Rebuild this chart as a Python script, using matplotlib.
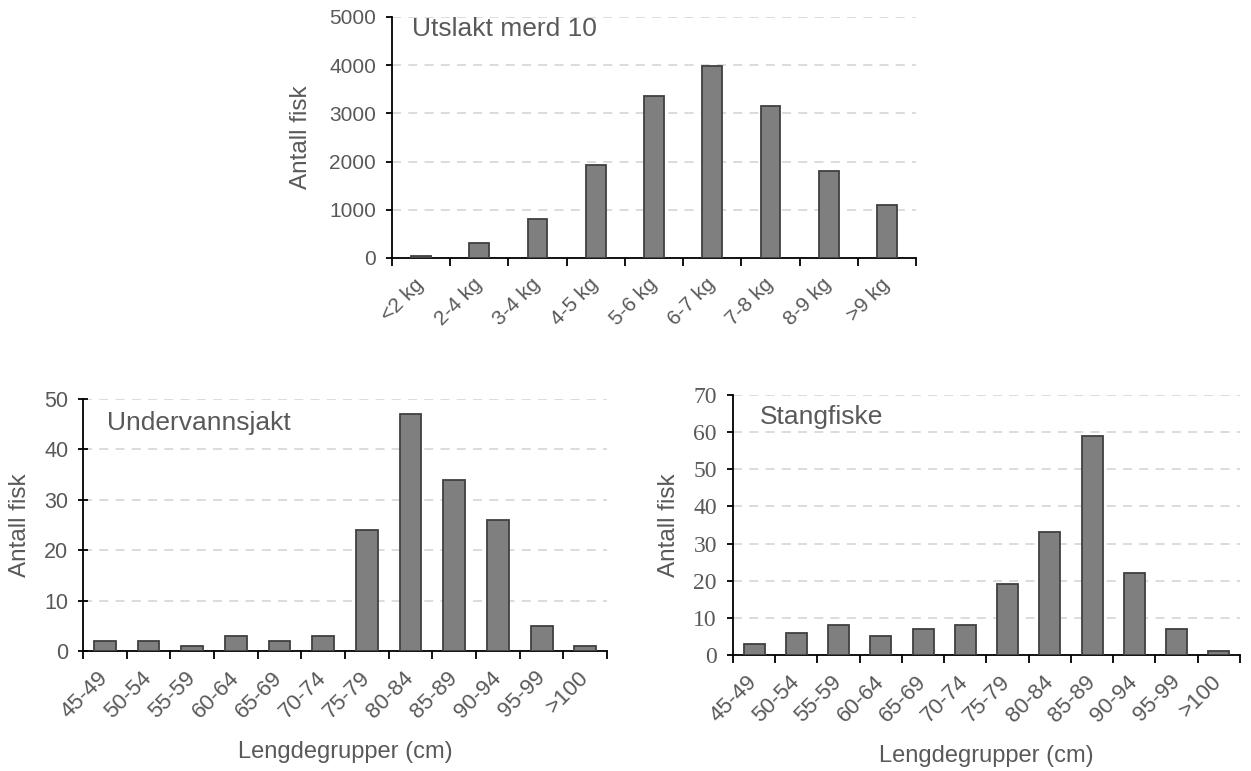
import numpy as np
import matplotlib
matplotlib.use("Agg")
import matplotlib.pyplot as plt

plt.rcParams['font.family'] = ['Liberation Sans', 'DejaVu Sans']

kg_labels = ["<2 kg", "2-4 kg", "3-4 kg", "4-5 kg", "5-6 kg", "6-7 kg", "7-8 kg", "8-9 kg", ">9 kg"]
kg_counts = [50, 310, 800, 1930, 3350, 3980, 3160, 1800, 1090]

len_labels = ["45-49", "50-54", "55-59", "60-64", "65-69", "70-74", "75-79",
              "80-84", "85-89", "90-94", "95-99", ">100"]
under_counts = [2, 2, 1, 3, 2, 3, 24, 47, 34, 26, 5, 1]
stang_counts = [3, 6, 8, 5, 7, 8, 19, 33, 59, 22, 7, 1]

txt = "#595959"
barc = "#7f7f7f"
edgec = "#404040"

fig = plt.figure(figsize=(12.51, 7.71), dpi=100)

def panel(rect, labels, vals, ymax, ystep, title, width, title_xy, ylab_x,
          xfs=16, yfs=15.5, ytdir="out", yfont=None, xlabel=None, xlab_y=-0.4):
    ax = fig.add_axes(rect)
    x = np.arange(len(labels))
    ax.bar(x, vals, width=width, color=barc, edgecolor=edgec, linewidth=1.3, zorder=3)
    ax.set_xlim(-0.5, len(labels) - 0.5)
    ax.set_ylim(0, ymax)
    ax.set_yticks(np.arange(0, ymax + 1, ystep))
    ax.yaxis.grid(True, color="#d9d9d9", linestyle=(0, (5, 4)), linewidth=1.3, zorder=0)
    ax.set_xticks(x)
    ax.set_xticklabels(labels, rotation=45, ha="right", va="center",
                       rotation_mode="anchor", color=txt, fontsize=xfs)
    ax.set_xticks(np.arange(-0.5, len(labels)), minor=True)
    ax.tick_params(axis="x", which="major", length=0, pad=17)
    ax.tick_params(axis="x", which="minor", length=6, width=1.3, color="black")
    ax.tick_params(axis="y", direction=ytdir, length=7 if ytdir == "inout" else 4.5,
                   width=1.3, labelsize=yfs, labelcolor=txt, pad=7)
    if yfont:
        for t in ax.get_yticklabels():
            t.set_family(yfont)
    for s in ["top", "right"]:
        ax.spines[s].set_visible(False)
    ax.spines["left"].set_linewidth(1.3)
    ax.spines["bottom"].set_linewidth(1.3)
    ax.set_ylabel("Antall fisk", color=txt, fontsize=17.5)
    ax.yaxis.set_label_coords(ylab_x, 0.5)
    ax.text(title_xy[0], title_xy[1], title, transform=ax.transAxes, color=txt,
            fontsize=19, va="center")
    if xlabel:
        ax.set_xlabel(xlabel, color=txt, fontsize=17)
        ax.xaxis.set_label_coords(0.5, xlab_y)
        ax.xaxis.label.set_va("center")
    return ax

panel([0.3133, 0.6654, 0.4189, 0.3126], kg_labels, kg_counts, 5000, 1000,
      "Utslakt merd 10", 0.34, (0.038, 0.95), -0.153, xfs=15, yfs=15)
panel([0.0663, 0.1556, 0.419, 0.3268], len_labels, under_counts, 50, 10,
      "Undervannsjakt", 0.5, (0.046, 0.905), -0.099, ytdir="inout",
      xlabel="Lengdegrupper (cm)", xlab_y=-0.40)
panel([0.5859, 0.1505, 0.4053, 0.3372], len_labels, stang_counts, 70, 10,
      "Stangfiske", 0.5, (0.053, 0.915), -0.105, yfs=17,
      yfont=["Liberation Serif", "DejaVu Serif"],
      xlabel="Lengdegrupper (cm)", xlab_y=-0.39)

fig.savefig("out.png", dpi=100)
